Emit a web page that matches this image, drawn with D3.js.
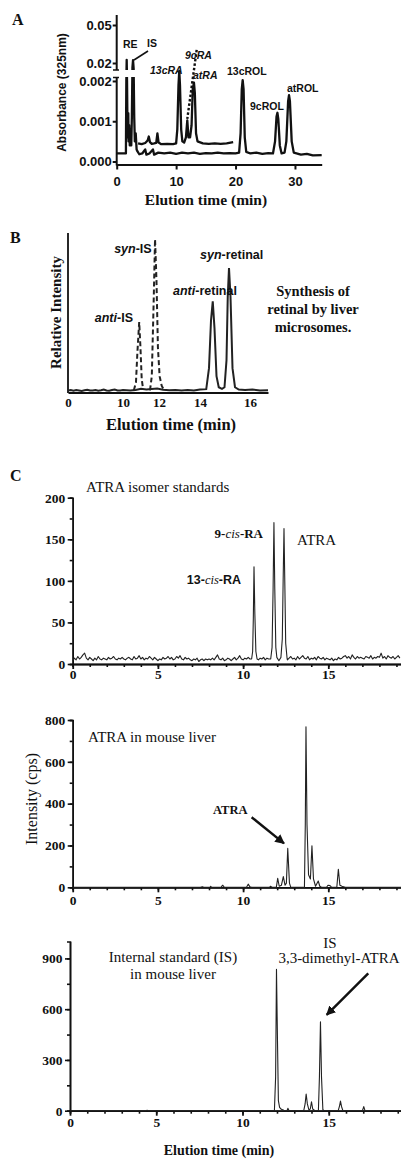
<!DOCTYPE html>
<html lang="en">
<head>
<meta charset="UTF-8">
<title>Retinoid chromatograms</title>
<script src="https://cdn.jsdelivr.net/npm/d3@7"></script>
<style>
  body { margin: 0; background: #fff; }
  svg { display: block; }
</style>
</head>
<body>
<div id="chart"></div>
<script>
// ---------- data: panel A (HPLC-UV, time min / absorbance) ----------
const aXTicks = [0, 10, 20, 30];
const aYTicks = [0, 0.001, 0.002, 0.02, 0.05];
const aLowerTrace = [
  [0, 0.0002], [1.0, 0.0002], [1.55, 0.0002], [1.62, 0.002], [1.68, 0.0225], [1.74, 0.002],
  [1.8, 0.0011], [1.88, 0.0006], [1.95, 0.0012], [2.0, 0.0005], [2.1, 0.0009], [2.2, 0.0004],
  [2.3, 0.0008], [2.45, 0.0004], [2.55, 0.0011], [2.65, 0.006], [2.75, 0.0222], [2.85, 0.003],
  [2.95, 0.0011], [3.05, 0.0005], [3.2, 0.0007], [3.35, 0.0003], [3.5, 0.00025], [3.8, 0.00018],
  [4.3, 0.0002], [4.8, 0.0003], [5.0, 0.00017], [5.5, 0.0002], [6.1, 0.0003], [6.3, 0.00017],
  [7, 0.00022], [8, 0.0002], [9, 0.00022], [10, 0.00019], [11, 0.00022], [12, 0.0002],
  [13, 0.00022], [14, 0.00019], [15, 0.00021], [16, 0.0002], [17, 0.00022], [18, 0.0002],
  [19, 0.00021], [20, 0.0002], [20.6, 0.00022], [20.85, 0.0007], [21.05, 0.0018], [21.2, 0.00202],
  [21.35, 0.0018], [21.55, 0.0006], [21.8, 0.00024], [22.5, 0.0002], [23.5, 0.00022], [24.5, 0.00019],
  [25.5, 0.00021], [26.3, 0.0002], [26.65, 0.0005], [26.9, 0.00112], [27.05, 0.00121], [27.2, 0.00105],
  [27.45, 0.0004], [27.75, 0.0002], [28.25, 0.00022], [28.55, 0.0005], [28.85, 0.0015], [29.0, 0.00165],
  [29.15, 0.0015], [29.45, 0.0005], [29.8, 0.00022], [31, 0.00017], [32, 0.00019], [33, 0.00015], [34.5, 0.00016]
];
const aUpperTrace = [
  [3.6, 0.00045], [4.2, 0.00043], [4.8, 0.00046], [5.2, 0.00052], [5.4, 0.00062], [5.6, 0.00048],
  [5.9, 0.00044], [6.3, 0.00045], [6.65, 0.00046], [6.85, 0.0007], [7.05, 0.00047], [7.5, 0.00043],
  [8.5, 0.00044], [9.5, 0.00043], [10.0, 0.00045], [10.2, 0.0008], [10.4, 0.0019], [10.53, 0.00225],
  [10.65, 0.0019], [10.85, 0.0008], [11.05, 0.0005], [11.35, 0.00047], [11.65, 0.0006], [11.88, 0.00102],
  [12.08, 0.0006], [12.35, 0.0006], [12.6, 0.0009], [12.8, 0.0018], [13.0, 0.00196], [13.15, 0.0017],
  [13.35, 0.0007], [13.6, 0.0005], [14.5, 0.00045], [15.5, 0.00044], [16.5, 0.00045], [17.5, 0.00044],
  [18.5, 0.00045], [19.6, 0.00048]
];

// ---------- data: panel B (relative intensity, %) ----------
const bXTicks = [0, 10, 12, 14, 16];
const bRetinal = [
  [0, 1], [0.5, 1.3], [1, 0.8], [1.5, 1.2], [2, 1], [2.5, 0.7], [3, 1.1], [3.5, 1.4], [4, 0.9],
  [4.5, 1], [5, 1.3], [5.5, 0.8], [6, 1.1], [6.5, 1.6], [7, 1], [7.5, 0.8], [8, 1.2], [8.5, 1.5],
  [9, 1], [9.5, 0.9], [10, 1.2], [10.4, 0.9], [10.7, 1.3], [11, 2], [11.3, 1.6], [11.6, 1.9],
  [11.9, 2.2], [12.2, 1.4], [12.5, 1.1], [12.8, 1.3], [13.1, 0.9], [13.4, 1.2], [13.7, 1],
  [14, 1.6], [14.25, 1.8], [14.36, 15], [14.44, 45], [14.51, 57], [14.58, 40], [14.66, 10],
  [14.75, 3], [14.88, 2], [14.98, 3], [15.06, 20], [15.11, 60], [15.16, 78], [15.22, 60],
  [15.3, 15], [15.4, 3], [15.55, 1.5], [15.8, 1.2], [16.1, 1.5], [16.4, 1], [16.72, 1.1]
];
const bAntiIS = [[10.6, 1], [10.72, 6], [10.8, 25], [10.9, 44], [10.97, 28], [11.04, 8], [11.12, 1.5]];
const bSynIS = [[11.5, 1], [11.6, 10], [11.7, 55], [11.78, 96], [11.86, 70], [11.94, 28], [12.03, 10], [12.13, 4], [12.25, 1]];

// ---------- data: panel C (LC-MS/MS, intensity cps) ----------
const cXMajor = [0, 5, 10, 15];
const c1YTicks = [0, 50, 100, 150, 200];
const c2YTicks = [0, 200, 400, 600, 800];
const c3YTicks = [0, 300, 600, 900];
// baseline of the isomer standards, one value per 0.1 min from 0 min
const c1Noise = [
  4, 7, 5, 9, 6, 8, 11, 13, 7, 5,   8, 6, 4, 7, 5, 9, 6, 5, 7, 6,
  5, 8, 6, 7, 9, 6, 5, 7, 6, 8,     6, 5, 7, 8, 6, 5, 9, 6, 7, 10,
  6, 8, 5, 7, 6, 9, 7, 5, 8, 6,     4, 6, 5, 8, 6, 7, 9, 6, 8, 5,
  6, 9, 7, 10, 6, 5, 8, 6, 7, 5,    4, 6, 5, 7, 3, 5, 6, 4, 6, 5,
  6, 5, 7, 5, 8, 11, 6, 5, 7, 4,    5, 7, 6, 4, 6, 8, 5, 7, 10, 6,
  5, 7, 6, 8, 6, 9, 6, 7, 6, 5,     7, 6, 8, 5, 7, 6, 6, 8, 7, 5,
  6, 7, 5, 6, 8, 6, 5, 7, 9, 6,     7, 5, 9, 6, 8, 10, 7, 6, 9, 5,
  7, 6, 8, 5, 9, 7, 6, 8, 5, 7,     6, 5, 7, 4, 6, 5, 8, 6, 7, 9,
  10, 7, 9, 6, 11, 8, 6, 9, 7, 8,   7, 6, 9, 8, 7, 10, 6, 8, 7, 9,
  8, 13, 7, 9, 6, 10, 8, 7, 9, 6,   8, 10, 7
];
const c1Peak13cis = [[10.5, 6], [10.56, 15], [10.6, 55], [10.64, 117], [10.69, 60], [10.75, 15], [10.82, 6]];
const c1Peak9cisAtra = [
  [11.62, 6], [11.7, 20], [11.76, 90], [11.81, 170], [11.86, 90], [11.92, 20], [11.98, 8],
  [12.1, 4], [12.22, 8], [12.3, 30], [12.35, 100], [12.4, 163], [12.45, 95], [12.5, 25], [12.58, 7]
];
const c2Liver = [
  [0, 0], [7.5, 0], [7.6, 3], [7.7, 0], [8.05, 0], [8.1, 5], [8.15, 0], [8.7, 0], [8.8, 10], [8.9, 0],
  [10.2, 0], [10.3, 15], [10.4, 2], [10.5, 0], [11.55, 0], [11.6, 5], [11.7, 0], [11.95, 0],
  [12.03, 43], [12.12, 5], [12.25, 10], [12.36, 51], [12.46, 10], [12.54, 20], [12.62, 186],
  [12.72, 20], [12.8, 0], [13.6, 0], [13.65, 300], [13.69, 768], [13.75, 300], [13.84, 60],
  [13.95, 40], [14.04, 199], [14.13, 40], [14.25, 5], [14.41, 30], [14.5, 5], [14.6, 0],
  [14.9, 0], [14.98, 10], [15.1, 8], [15.2, 0], [15.5, 0], [15.59, 86], [15.68, 10],
  [15.8, 5], [16.0, 0], [19.3, 0]
];
const c3Liver = [
  [0, 0], [4.4, 0], [4.47, 3], [4.55, 0], [11.85, 0], [11.92, 200], [11.97, 835], [12.03, 400],
  [12.08, 60], [12.15, 20], [12.25, 8], [12.4, 2], [12.58, 0], [12.63, 14], [12.7, 0], [13.55, 0],
  [13.63, 40], [13.69, 99], [13.76, 40], [13.85, 5], [13.93, 10], [14.0, 53], [14.07, 10],
  [14.2, 0], [14.4, 0], [14.46, 200], [14.52, 526], [14.58, 200], [14.66, 5], [14.75, 0],
  [15.55, 0], [15.63, 30], [15.68, 57], [15.74, 25], [15.82, 0], [16.95, 0], [17.03, 24],
  [17.1, 0], [19.3, 0]
];

// ---------- drawing ----------
const W = 401, H = 1159;
const SANS = '"Liberation Sans", Arial, sans-serif';
const SERIF = '"Liberation Serif", "Times New Roman", serif';
const INK = "#111";

const svg = d3.select("#chart").append("svg").attr("width", W).attr("height", H);
const defs = svg.append("defs");
defs.append("marker").attr("id", "arrow").attr("viewBox", "0 0 10 10")
  .attr("refX", 9).attr("refY", 5).attr("markerWidth", 4).attr("markerHeight", 4)
  .attr("orient", "auto")
  .append("path").attr("d", "M0,0 L10,5 L0,10 z").attr("fill", INK);

function label(g, x, y, parts, opts) {
  const t = g.append("text").attr("x", x).attr("y", y)
    .attr("font-family", opts.family).attr("font-size", opts.size)
    .attr("font-weight", opts.weight || "normal")
    .attr("text-anchor", opts.anchor || "start").attr("fill", INK);
  if (opts.rotate) t.attr("transform", `rotate(-90,${x},${y})`);
  (typeof parts === "string" ? [[parts]] : parts).forEach(p => {
    const s = t.append("tspan").text(p[0]);
    if (p[1] && p[1].italic) s.attr("font-style", "italic");
    if (p[1] && p[1].family) s.attr("font-family", p[1].family);
    if (p[1] && p[1].weight) s.attr("font-weight", p[1].weight);
  });
  return t;
}

function styleAxis(g, family, size, weight, width) {
  g.attr("font-family", family).attr("font-size", size).attr("font-weight", weight);
  g.selectAll("path, line").attr("stroke", INK).attr("stroke-width", width);
  g.selectAll("text").attr("fill", INK);
}

// ===== Panel A =====
const gA = svg.append("g");
const xA = d3.scaleLinear().domain([0, 34.5]).range([116.7, 321.7]);
// broken y axis: lower 0..0.002 region, compressed gap, upper 0.02..0.05 region
const yA = d3.scaleLinear().domain([0, 0.0023, 0.02, 0.05]).range([161.5, 68.9, 63, 25]);

const clipA = defs.append("clipPath").attr("id", "clipA");
clipA.append("rect").attr("x", 0).attr("y", 0).attr("width", W).attr("height", 70);
clipA.append("rect").attr("x", 0).attr("y", 77).attr("width", W).attr("height", 100);
clipA.append("rect").attr("x", 140).attr("y", 0).attr("width", W).attr("height", 180);

const lineA = d3.line().x(d => xA(d[0])).y(d => yA(d[1]));
const tracesA = gA.append("g").attr("clip-path", "url(#clipA)");
[aLowerTrace, aUpperTrace].forEach(tr => {
  tracesA.append("path").datum(tr).attr("d", lineA)
    .attr("fill", "none").attr("stroke", INK).attr("stroke-width", 2.3).attr("stroke-linejoin", "round");
});

// axis segments
gA.append("line").attr("x1", 116.7).attr("x2", 116.7).attr("y1", 15).attr("y2", 70)
  .attr("stroke", INK).attr("stroke-width", 2);
gA.append("line").attr("x1", 116.7).attr("x2", 116.7).attr("y1", 77.5).attr("y2", 165.5)
  .attr("stroke", INK).attr("stroke-width", 2);
gA.append("line").attr("x1", 113).attr("x2", 119).attr("y1", 70).attr("y2", 70).attr("stroke", INK).attr("stroke-width", 1.5);
gA.append("line").attr("x1", 113).attr("x2", 119).attr("y1", 77.5).attr("y2", 77.5).attr("stroke", INK).attr("stroke-width", 1.5);

const ayAxis = gA.append("g").attr("transform", "translate(116.7,0)")
  .call(d3.axisLeft(yA).tickValues(aYTicks).tickSize(4).tickPadding(1)
    .tickFormat(d => d >= 0.01 ? d.toFixed(2) : d.toFixed(3)));
ayAxis.select(".domain").remove();
styleAxis(ayAxis, SANS, 13, "bold", 2);

const axAxis = gA.append("g").attr("transform", "translate(0,164.5)")
  .call(d3.axisBottom(xA).tickValues(aXTicks).tickSize(5).tickSizeOuter(0).tickPadding(7));
styleAxis(axAxis, SANS, 13, "bold", 2);

// peak labels
const fA = { family: SANS, size: 10.5, weight: "bold" };
label(gA, 123, 47.5, "RE", fA);
label(gA, 147, 46.5, "IS", fA);
label(gA, 150, 73.5, [["13cRA", { italic: true }]], fA);
label(gA, 185, 58.5, [["9cRA", { italic: true }]], fA);
label(gA, 193, 78.5, [["atRA", { italic: true }]], fA);
label(gA, 227, 75, "13cROL", fA);
label(gA, 250, 110, "9cROL", fA);
label(gA, 287, 91.5, "atROL", fA);
// leader lines (data space)
gA.append("line")
  .attr("x1", xA(2.91)).attr("y1", yA(0.0224)).attr("x2", xA(5.27)).attr("y2", yA(0.0295))
  .attr("stroke", INK).attr("stroke-width", 1.6);
gA.append("line")
  .attr("x1", xA(13.46)).attr("y1", yA(0.0303)).attr("x2", xA(11.88)).attr("y2", yA(0.00106))
  .attr("stroke", INK).attr("stroke-width", 2.4).attr("stroke-dasharray", "2.5,2");

label(gA, 12, 25, "A", { family: SERIF, size: 16, weight: "bold" });
label(gA, 66, 92.5, "Absorbance (325nm)", { family: SANS, size: 12, weight: "bold", anchor: "middle", rotate: true });
label(gA, 206, 205, "Elution time (min)", { family: SERIF, size: 15.5, weight: "bold", anchor: "middle" });

// ===== Panel B =====
const gB = svg.append("g");
const xB = d3.scaleLinear().domain([0, 10, 12, 14, 16, 16.72]).range([68, 123, 159, 200, 250, 268]);
const yB = d3.scaleLinear().domain([0, 100]).range([392, 233]);
const lineB = d3.line().x(d => xB(d[0])).y(d => yB(d[1]));

gB.append("line").attr("x1", 68).attr("x2", 68).attr("y1", yB(100)).attr("y2", yB(0) + 1)
  .attr("stroke", INK).attr("stroke-width", 1.8);
const bxAxis = gB.append("g").attr("transform", `translate(0,${yB(0) + 0.5})`)
  .call(d3.axisBottom(xB).tickValues(bXTicks).tickSize(0).tickPadding(5));
styleAxis(bxAxis, SERIF, 13, "bold", 1.8);

gB.append("path").datum(bRetinal).attr("d", lineB)
  .attr("fill", "none").attr("stroke", "#222").attr("stroke-width", 2);
[bAntiIS, bSynIS].forEach(tr => {
  gB.append("path").datum(tr).attr("d", lineB)
    .attr("fill", "none").attr("stroke", "#222").attr("stroke-width", 2).attr("stroke-dasharray", "5,3");
});

const fB = { family: SANS, size: 12.5, weight: "bold" };
label(gB, 151.7, 253, [["syn", { italic: true }], ["-IS"]], { ...fB, anchor: "end" });
label(gB, 133, 322, [["anti", { italic: true }], ["-IS"]], { ...fB, anchor: "end" });
label(gB, 173, 295, [["anti", { italic: true }], ["-retinal"]], fB);
label(gB, 200, 259, [["syn", { italic: true }], ["-retinal"]], fB);

const fNote = { family: SERIF, size: 14.5, weight: "bold", anchor: "middle" };
label(gB, 313, 296, "Synthesis of", fNote);
label(gB, 313, 314, "retinal by liver", fNote);
label(gB, 313, 332, "microsomes.", fNote);

label(gB, 10, 243, "B", { family: SERIF, size: 16, weight: "bold" });
label(gB, 61, 312.5, "Relative Intensity", { family: SERIF, size: 15, weight: "bold", anchor: "middle", rotate: true });
label(gB, 171, 430, "Elution time (min)", { family: SERIF, size: 16.5, weight: "bold", anchor: "middle" });

// ===== Panel C =====
function drawC(cfg) {
  const g = svg.append("g");
  const x = d3.scaleLinear().domain([0, 19.3]).range([cfg.x0, cfg.x0 + 19.3 * cfg.pxPerMin]);
  const y = d3.scaleLinear().domain([0, cfg.yMax]).range([cfg.y0, cfg.yTop]);

  const yMinor = d3.range(0, cfg.yMax + 0.1, cfg.yStep / 2);
  const gyMinor = g.append("g").attr("transform", `translate(${cfg.x0},0)`)
    .call(d3.axisLeft(y).tickValues(yMinor).tickSize(3).tickFormat(""));
  styleAxis(gyMinor, SERIF, 13.5, "bold", 1.6);
  const gy = g.append("g").attr("transform", `translate(${cfg.x0},0)`)
    .call(d3.axisLeft(y).tickValues(cfg.yTicks).tickSize(5).tickSizeOuter(0).tickPadding(2.5));
  styleAxis(gy, SERIF, 13.5, "bold", 1.6);

  const gxMinor = g.append("g").attr("transform", `translate(0,${cfg.y0})`)
    .call(d3.axisBottom(x).tickValues(d3.range(0, 20, 1)).tickSize(3).tickFormat(""));
  styleAxis(gxMinor, SERIF, 13.5, "bold", 1.6);
  const gx = g.append("g").attr("transform", `translate(0,${cfg.y0})`)
    .call(d3.axisBottom(x).tickValues(cXMajor).tickSize(5).tickSizeOuter(0).tickPadding(cfg.xPad));
  styleAxis(gx, SERIF, 13.5, "bold", 1.8);

  const line = d3.line().x(d => x(d[0])).y(d => y(d[1]));
  g.append("path").datum(cfg.trace).attr("d", line)
    .attr("fill", "none").attr("stroke", "#222").attr("stroke-width", 1.1).attr("stroke-linejoin", "round");
  return { g, x, y };
}

const c1Peaks = [c1Peak13cis, c1Peak9cisAtra];
const c1Trace = c1Noise.map((v, i) => [i * 0.1, v])
  .filter(([t]) => !c1Peaks.some(p => t >= p[0][0] && t <= p[p.length - 1][0]))
  .concat(...c1Peaks)
  .sort((a, b) => a[0] - b[0]);

const C1 = drawC({ x0: 72.7, pxPerMin: 17.04, y0: 664, yTop: 497.7, yMax: 200, yStep: 50,
  yTicks: c1YTicks, trace: c1Trace, xPad: 0 });
const C2 = drawC({ x0: 72.7, pxPerMin: 17.04, y0: 887.3, yTop: 720, yMax: 800, yStep: 200,
  yTicks: c2YTicks, trace: c2Liver, xPad: 3 });
const C3 = drawC({ x0: 70, pxPerMin: 17.25, y0: 1110.7, yTop: 941.5, yMax: 1000, yStep: 300,
  yTicks: c3YTicks, trace: c3Liver, xPad: 1.5 });

const fC = { family: SERIF, size: 15 };
label(svg, 10, 481, "C", { family: SERIF, size: 16, weight: "bold" });

// C1 labels
label(C1.g, 86, 492, "ATRA isomer standards", fC);
label(C1.g, 263, 538, [["9-", { weight: "bold" }], ["cis", { italic: true }], ["-RA", { weight: "bold" }]],
  { family: SERIF, size: 13, anchor: "end" });
label(C1.g, 241, 584, [["13-", { weight: "bold", family: SANS }], ["cis", { italic: true }], ["-RA", { weight: "bold", family: SANS }]],
  { family: SERIF, size: 12.5, anchor: "end" });
label(C1.g, 297, 545, "ATRA", fC);

// C2 labels
label(C2.g, 88, 742, "ATRA in mouse liver", fC);
label(C2.g, 213, 814, "ATRA", { family: SERIF, size: 12.5, weight: "bold" });
C2.g.append("line")
  .attr("x1", C2.x(10.5)).attr("y1", C2.y(335)).attr("x2", C2.x(12.4)).attr("y2", C2.y(210))
  .attr("stroke", INK).attr("stroke-width", 2.4).attr("marker-end", "url(#arrow)");
label(C2.g, 37, 799, "Intensity (cps)", { family: SERIF, size: 16, anchor: "middle", rotate: true });

// C3 labels
label(C3.g, 173, 961.5, "Internal standard (IS)", { ...fC, anchor: "middle" });
label(C3.g, 173, 979.3, "in mouse liver", { ...fC, anchor: "middle" });
label(C3.g, 330, 948.3, "IS", { ...fC, anchor: "middle" });
label(C3.g, 339, 963.3, "3,3-dimethyl-ATRA", { ...fC, anchor: "middle" });
C3.g.append("line")
  .attr("x1", C3.x(17.29)).attr("y1", C3.y(812)).attr("x2", C3.x(14.88)).attr("y2", C3.y(566))
  .attr("stroke", INK).attr("stroke-width", 2.4).attr("marker-end", "url(#arrow)");
label(C3.g, 219, 1155, "Elution time (min)", { family: SERIF, size: 14, weight: "bold", anchor: "middle" });
</script>
</body>
</html>
